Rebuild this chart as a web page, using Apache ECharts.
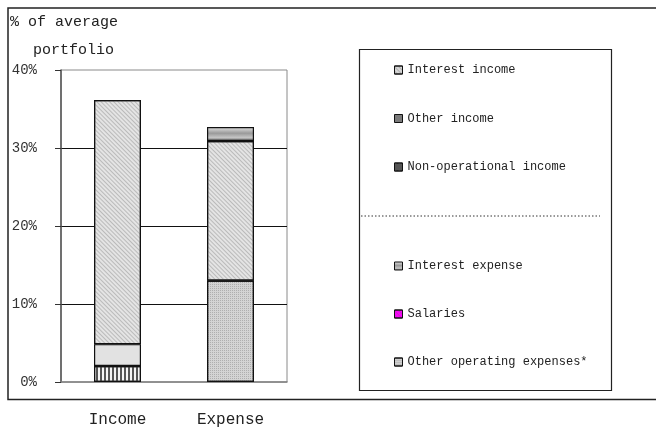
<!DOCTYPE html>
<html>
<head>
<meta charset="utf-8">
<style>
  html, body { margin: 0; padding: 0; background: #fff; }
  #chart { width: 656px; height: 428px; }
</style>
<script src="https://cdn.jsdelivr.net/npm/echarts@6/dist/echarts.min.js"></script>
</head>
<body>
<div id="chart"></div>
<script>
// Categories and stacked values (% of average portfolio)
const categories = ['Income', 'Expense'];
const interestIncome = [31.3, '-'];
const otherIncome = [2.8, '-'];
const nonOperationalIncome = [2.05, '-'];
const interestExpense = ['-', 1.8];
const salaries = ['-', 17.9];
const otherOperatingExpenses = ['-', 13.0];
const yTicks = { min: 0, max: 40, interval: 10 };

const FONT = 'Liberation Mono';
const chart = echarts.init(document.getElementById('chart'));

const border = { borderColor: '#111', borderWidth: 1.2 };

const hatch = {
  symbol: 'rect', symbolSize: 1, color: 'rgba(110,110,110,0.35)',
  dashArrayX: [1, 0], dashArrayY: [1, 2], rotation: Math.PI / 4
};
const stripes = {
  symbol: 'rect', symbolSize: 1, color: '#555',
  dashArrayX: [1.2, 1.8], dashArrayY: [1, 0], rotation: 0
};
const dots = {
  symbol: 'rect', symbolSize: 1, color: 'rgba(90,90,90,0.3)',
  dashArrayX: [1, 1], dashArrayY: [1, 1], rotation: 0
};
const greyGradient = {
  type: 'linear', x: 0, y: 0, x2: 0, y2: 1,
  colorStops: [
    { offset: 0, color: '#e6e6e6' },
    { offset: 0.45, color: '#9a9a9a' },
    { offset: 0.75, color: '#c4c4c4' },
    { offset: 1, color: '#6a6a6a' }
  ]
};

function bar(name, data, itemStyle) {
  return {
    name, type: 'bar', stack: 'total', data,
    barWidth: 47,
    itemStyle: Object.assign({}, border, itemStyle),
    emphasis: { disabled: true }
  };
}

const legendText = { fontFamily: FONT, fontSize: 12, color: '#222', lineHeight: 14 };
const legendIcon = { borderColor: '#111', borderWidth: 1 };

chart.setOption({
  animation: false,
  grid: {
    left: 61, top: 70, width: 226, height: 312,
    show: true, borderColor: '#8a8a8a', borderWidth: 1, backgroundColor: 'transparent'
  },
  xAxis: {
    type: 'category', data: categories,
    axisLine: { lineStyle: { color: '#808080', width: 1.5 } },
    axisTick: { show: false },
    axisLabel: { fontFamily: FONT, fontSize: 16, color: '#222', margin: 30 }
  },
  yAxis: {
    type: 'value', min: yTicks.min, max: yTicks.max, interval: yTicks.interval,
    axisLine: { show: true, lineStyle: { color: '#555', width: 1.5 } },
    axisTick: { show: true, length: 6, lineStyle: { color: '#333' } },
    axisLabel: { fontFamily: FONT, fontSize: 14, color: '#333', margin: 24, formatter: '{value}%' },
    splitLine: { show: true, lineStyle: { color: ['transparent', '#111', '#111', '#111', 'transparent'], width: 1 } }
  },
  legend: [
    {
      orient: 'vertical', left: 389, top: 58, itemWidth: 8, itemHeight: 8, itemGap: 34.5,
      icon: 'rect', textStyle: legendText, selectedMode: false,
      data: [
        { name: 'Interest income', itemStyle: Object.assign({ color: '#d6d6d6' }, legendIcon) },
        { name: 'Other income', itemStyle: Object.assign({ color: '#7a7a7a' }, legendIcon) },
        { name: 'Non-operational income', itemStyle: Object.assign({ color: '#555' }, legendIcon) }
      ]
    },
    {
      orient: 'vertical', left: 389, top: 254, itemWidth: 8, itemHeight: 8, itemGap: 34,
      icon: 'rect', textStyle: legendText, selectedMode: false,
      data: [
        { name: 'Interest expense', itemStyle: Object.assign({ color: greyGradient }, legendIcon) },
        { name: 'Salaries', itemStyle: Object.assign({ color: '#ff00ff' }, legendIcon) },
        { name: 'Other operating expenses*', itemStyle: Object.assign({ color: '#cfcfcf' }, legendIcon) }
      ]
    }
  ],
  series: [
    bar('Non-operational income', nonOperationalIncome, { color: '#f4f4f4', decal: stripes }),
    bar('Other income', otherIncome, { color: '#e2e2e2' }),
    bar('Interest income', interestIncome, { color: '#e4e4e4', decal: hatch }),
    bar('Other operating expenses*', otherOperatingExpenses, { color: '#d4d4d4', decal: dots }),
    bar('Salaries', salaries, { color: '#e4e4e4', decal: hatch }),
    bar('Interest expense', interestExpense, { color: greyGradient })
  ],
  graphic: [
    // outer frame
    { type: 'rect', silent: true, shape: { x: 8, y: 8, width: 700, height: 391.5 },
      style: { fill: 'none', stroke: '#222', lineWidth: 1.5 } },
    // axis title
    { type: 'text', left: 10, top: 15, silent: true,
      style: { text: '% of average', font: '15px "Liberation Mono"', fill: '#222' } },
    { type: 'text', left: 33, top: 43, silent: true,
      style: { text: 'portfolio', font: '15px "Liberation Mono"', fill: '#222' } },
    // legend box and divider
    { type: 'rect', silent: true, shape: { x: 359.5, y: 49.5, width: 252, height: 341 },
      style: { fill: 'none', stroke: '#222', lineWidth: 1.2 } },
    { type: 'line', silent: true, shape: { x1: 361, y1: 216, x2: 600, y2: 216 },
      style: { stroke: '#333', lineWidth: 1, lineDash: [1.5, 2] } }
  ]
});
</script>
</body>
</html>
